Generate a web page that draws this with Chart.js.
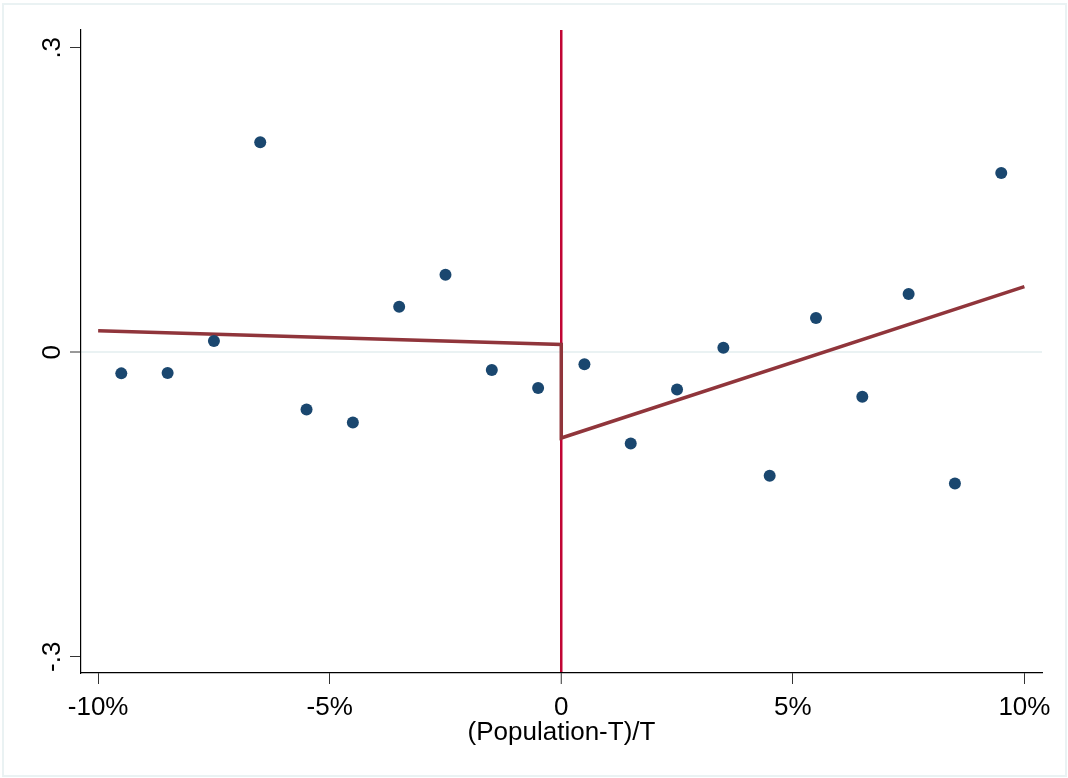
<!DOCTYPE html>
<html>
<head>
<meta charset="utf-8">
<script src="https://cdn.jsdelivr.net/npm/chart.js@4"></script>
<style>
  html, body { margin: 0; padding: 0; background: #fff; }
  #wrap { width: 1068px; height: 778px; }
</style>
</head>
<body>
<div id="wrap"><canvas id="rdChart" width="1068" height="778"></canvas></div>
<script>
// binned means of the outcome by (Population-T)/T, in percent
const binCenters = [-9.5, -8.5, -7.5, -6.5, -5.5, -4.5, -3.5, -2.5, -1.5, -0.5,
                    0.5, 1.5, 2.5, 3.5, 4.5, 5.5, 6.5, 7.5, 8.5, 9.5];
const binMeans = [-0.0208, -0.0205, 0.011, 0.2068, -0.0563, -0.0691, 0.0448, 0.0764, -0.0175, -0.0353,
                  -0.0119, -0.0898, -0.0366, 0.0044, -0.1217, 0.0337, -0.0438, 0.0573, -0.1292, 0.1766];

// linear fits on each side of the cutoff
const fitX = [-10, 0, 0, 10];
const fitY = [0.0212, 0.0077, -0.0845, 0.0647];

const xTicks = [-10, -5, 0, 5, 10];
const yTicks = [-0.3, 0, 0.3];
const yTickLabels = ['-.3', '0', '.3'];
const xRange = [-10.37, 10.38];
const yRange = [-0.316, 0.3175];

Chart.defaults.font.family = "'Liberation Sans', Arial, sans-serif";
Chart.defaults.color = '#000';

const points = binCenters.map((x, i) => ({ x: x, y: binMeans[i] }));
const fitLine = fitX.map((x, i) => ({ x: x, y: fitY[i] }));

// white background and the faint outer frame
const frame = {
  id: 'frame',
  beforeDraw(chart) {
    const c = chart.ctx;
    c.save();
    c.fillStyle = '#fff';
    c.fillRect(0, 0, chart.width, chart.height);
    c.strokeStyle = '#eaf2f3';
    c.lineWidth = 2;
    c.strokeRect(3, 4, 1063, 772);
    c.restore();
  }
};

// y tick labels are written sideways
const yLabels = {
  id: 'yLabels',
  afterDraw(chart) {
    const c = chart.ctx;
    const y = chart.scales.y;
    c.save();
    c.fillStyle = '#000';
    c.font = "26px 'Liberation Sans', Arial, sans-serif";
    c.textAlign = 'center';
    c.textBaseline = 'alphabetic';
    yTicks.forEach((v, i) => {
      c.save();
      c.translate(60, y.getPixelForValue(v));
      c.rotate(-Math.PI / 2);
      c.fillText(yTickLabels[i], 0, 0);
      c.restore();
    });
    c.restore();
  }
};

new Chart(document.getElementById('rdChart'), {
  type: 'scatter',
  data: {
    datasets: [
      {
        label: 'bin means',
        data: points,
        pointRadius: 6,
        pointBackgroundColor: '#1a476f',
        pointBorderWidth: 0,
        order: 0
      },
      {
        type: 'line',
        label: 'fit',
        data: fitLine,
        showLine: true,
        borderColor: '#90353b',
        borderWidth: 3.5,
        pointRadius: 0,
        fill: false,
        tension: 0,
        order: 1
      }
    ]
  },
  options: {
    responsive: false,
    animation: false,
    events: [],
    layout: { padding: { left: 0, top: 30, right: 26, bottom: 0 } },
    plugins: {
      legend: { display: false },
      tooltip: { enabled: false }
    },
    scales: {
      x: {
        type: 'linear',
        min: xRange[0],
        max: xRange[1],
        afterBuildTicks: s => { s.ticks = xTicks.map(v => ({ value: v })); },
        afterFit: s => { s.height = 105; },
        ticks: {
          font: { size: 26 },
          padding: 8,
          maxRotation: 0,
          callback: v => (v === 0 ? '0' : v + '%')
        },
        grid: {
          color: c => (c.tick && c.tick.value === 0 ? '#c10534' : 'rgba(0,0,0,0)'),
          lineWidth: c => (c.tick && c.tick.value === 0 ? 2.5 : 1),
          tickColor: '#333',
          tickWidth: 1,
          tickLength: 11
        },
        border: { color: '#000', width: 1.2 },
        title: {
          display: true,
          text: '(Population-T)/T',
          font: { size: 26 },
          padding: { top: 0, bottom: 30 }
        }
      },
      y: {
        type: 'linear',
        min: yRange[0],
        max: yRange[1],
        afterBuildTicks: s => { s.ticks = yTicks.map(v => ({ value: v })); },
        afterFit: s => { s.width = 81; },
        ticks: { display: false },
        grid: {
          color: c => (c.tick && c.tick.value === 0 ? '#eaf2f3' : 'rgba(0,0,0,0)'),
          lineWidth: c => (c.tick && c.tick.value === 0 ? 2 : 1),
          tickColor: '#333',
          tickWidth: 1,
          tickLength: 11
        },
        border: { color: '#000', width: 1.2 }
      }
    }
  },
  plugins: [frame, yLabels]
});
</script>
</body>
</html>
